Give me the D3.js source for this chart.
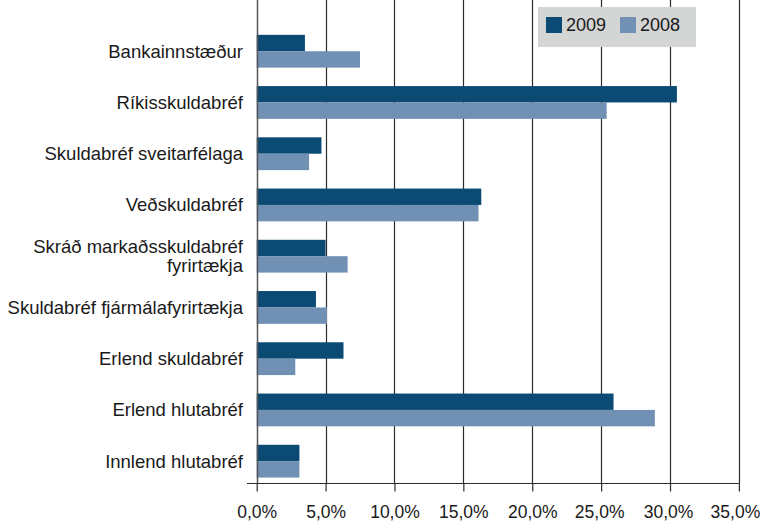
<!DOCTYPE html>
<html>
<head>
<meta charset="utf-8">
<script src="https://cdn.jsdelivr.net/npm/d3@7"></script>
<style>
  body { margin: 0; background: #fff; }
  svg { display: block; font-family: "Liberation Sans", Arial, sans-serif; }
</style>
</head>
<body>
<div id="container"></div>
<script>
// data (percent)
var categories = ["Bankainnstæður", "Ríkisskuldabréf", "Skuldabréf sveitarfélaga", "Veðskuldabréf",
  "Skráð markaðsskuldabréf\nfyrirtækja", "Skuldabréf fjármálafyrirtækja", "Erlend skuldabréf",
  "Erlend hlutabréf", "Innlend hlutabréf"];
var series = ["2009", "2008"];
var values2009 = [3.5, 30.5, 4.7, 16.3, 5.0, 4.3, 6.3, 25.9, 3.1];
var values2008 = [7.5, 25.4, 3.8, 16.1, 6.6, 5.1, 2.8, 28.9, 3.1];
var tickValues = [0, 5, 10, 15, 20, 25, 30, 35];
var colors = ["#0b4a73", "#7090b4"];

var W = 763, H = 524;
var svg = d3.select("#container").append("svg").attr("width", W).attr("height", H);

var x = d3.scaleLinear().domain([0, 35]).range([256.7, 738.9]);
var y = d3.scaleBand().domain(categories).range([25.6, 486.8]).paddingInner(0.36).paddingOuter(0.18);
var ySub = d3.scaleBand().domain(series).range([0, y.bandwidth()]);
var color = d3.scaleOrdinal().domain(series).range(colors);
var axisY = 483.5;

// gridlines
svg.append("g").selectAll("line")
  .data(tickValues.slice(1))
  .enter().append("line")
  .attr("x1", function(d) { return Math.round(x(d)) + 0.5; })
  .attr("x2", function(d) { return Math.round(x(d)) + 0.5; })
  .attr("y1", 0).attr("y2", axisY)
  .attr("stroke", "#2b2b2b").attr("stroke-width", 1.2);

// bars
var rows = categories.map(function(c, i) {
  return { cat: c, vals: [{ s: "2009", v: values2009[i] }, { s: "2008", v: values2008[i] }] };
});
var groups = svg.append("g").selectAll("g")
  .data(rows).enter().append("g")
  .attr("transform", function(d) { return "translate(0," + y(d.cat) + ")"; });
groups.selectAll("rect")
  .data(function(d) { return d.vals; })
  .enter().append("rect")
  .attr("x", x(0))
  .attr("y", function(d) { return ySub(d.s); })
  .attr("width", function(d) { return x(d.v) - x(0); })
  .attr("height", ySub.bandwidth())
  .attr("fill", function(d) { return color(d.s); });

// vertical axis line
svg.append("line")
  .attr("x1", Math.round(x(0)) + 0.5).attr("x2", Math.round(x(0)) + 0.5)
  .attr("y1", 0).attr("y2", axisY)
  .attr("stroke", "#555").attr("stroke-width", 1.5);

// x axis
var xAxis = d3.axisBottom(x).tickValues(tickValues).tickSize(8).tickPadding(14)
  .tickFormat(function(d) { return d.toFixed(1).replace(".", ",") + "%"; });
var gx = svg.append("g").attr("transform", "translate(0," + axisY + ")").call(xAxis);
gx.select(".domain").remove();
gx.append("line").attr("x1", 247).attr("x2", x(35) + 0.5).attr("stroke", "#2b2b2b").attr("stroke-width", 1.2);
gx.selectAll(".tick line").attr("stroke", "#2b2b2b").attr("stroke-width", 1.2);
gx.selectAll(".tick text").attr("fill", "#1a1a1a").style("font-size", "17.5px")
  .style("font-family", "'Liberation Sans', Arial, sans-serif")
  .attr("dx", function(d) { return d === 35 ? -4 : (d >= 25 ? -2 : 0); });

// category labels
var labels = svg.append("g").selectAll("text")
  .data(categories).enter().append("text")
  .attr("x", 243)
  .attr("y", function(d) { return y(d) + y.bandwidth() / 2; })
  .attr("text-anchor", "end")
  .attr("fill", "#1a1a1a")
  .style("font-size", "18.5px");
labels.each(function(d) {
  var lines = d.split("\n");
  var t = d3.select(this);
  lines.forEach(function(l, i) {
    t.append("tspan").attr("x", 243)
      .attr("dy", i === 0 ? (0.35 - (lines.length - 1) * 0.52) + "em" : "1.04em")
      .text(l);
  });
});

// legend
var legend = svg.append("g").attr("transform", "translate(538,7)");
legend.append("rect").attr("width", 158).attr("height", 40).attr("fill", "#d4d5d5");
var items = legend.selectAll("g.item").data(series).enter().append("g")
  .attr("transform", function(d, i) { return "translate(" + (8 + i * 74) + ",10)"; });
items.append("rect").attr("width", 16).attr("height", 16).attr("fill", function(d) { return color(d); });
items.append("text").attr("x", 20).attr("y", 8).attr("dy", "0.35em")
  .attr("fill", "#1a1a1a").style("font-size", "18px").text(function(d) { return d; });
</script>
</body>
</html>
